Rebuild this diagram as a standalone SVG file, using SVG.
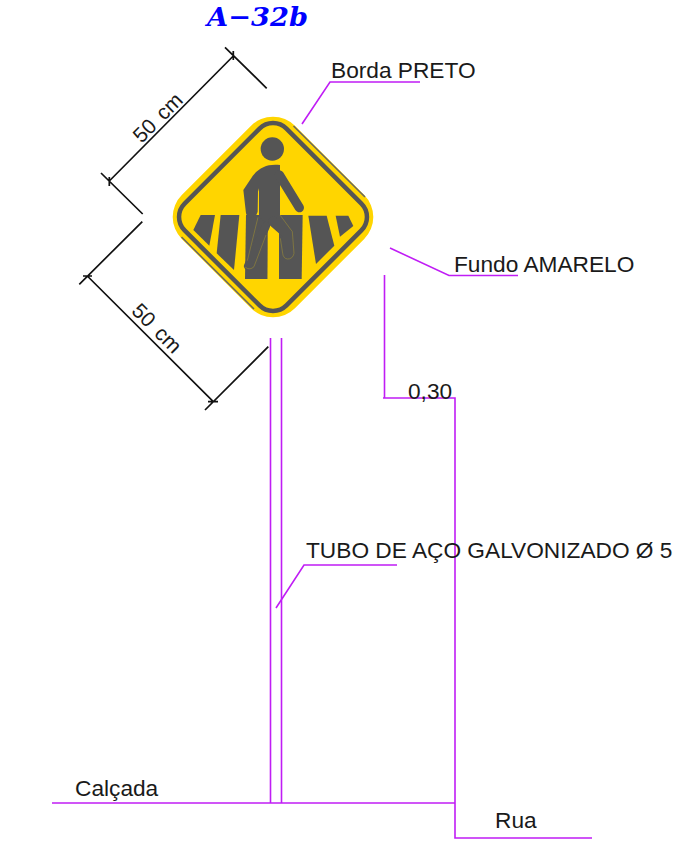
<svg xmlns="http://www.w3.org/2000/svg" width="674" height="846" viewBox="0 0 674 846">
<style>
.t{font-family:"Liberation Sans",Arial,sans-serif;font-size:22.700px;fill:#1a1a1a}
.r{font-size:21px;word-spacing:3px}
.p{fill:none;stroke:#c01df5;stroke-width:1.600}
.d{fill:none;stroke:#111;stroke-width:1.700}
.k{fill:#555}
.s{fill:none;stroke:#555;stroke-linecap:round;stroke-linejoin:round}
.y{fill:none;stroke:#a8962e;stroke-width:1.500}
</style>
<rect width="674" height="846" fill="#fff"/>
<g id="connectors">
<path class="p" d="M302 124L330 82H420"/>
<path class="p" d="M390 248L449 275.500H518"/>
<path class="p" d="M384.500 275V398M383 398H455V838H592"/>
<path class="p" d="M270.500 338V803M281.500 338V803"/>
<path class="p" d="M52 803H455"/>
<path class="p" d="M276 608L304 565H397"/>
<path class="d" d="M109.300 181L233.300 56M101 173L142.700 214M225 47.300L266.700 88.300M109.300 177V186M233.300 51V60"/>
<path class="d" d="M87.300 276L213.300 401.700M79.300 284.300L142.300 221.700M205 410L268.300 346.700M83 276H92M208 401.700H218"/>
</g>
<g id="sign">
<rect x="193" y="137" width="160" height="160" rx="31" fill="#ffd500" transform="rotate(45 273 217)"/>
<path d="M293.500 126L365 197M181.500 237L254 309" fill="none" stroke="#666" stroke-width="1.500"/>
<rect x="201" y="145" width="144" height="144" rx="19" fill="none" stroke="#555" stroke-width="4.500" transform="rotate(45 273 217)"/>
<g transform="translate(160 100) scale(.33333)">
<circle class="k" cx="337" cy="147" r="35"/>
<path class="k" d="M122 345H165L148 437L100 390Z"/>
<path class="k" d="M182 345H238L222 510L170 460Z"/>
<path class="k" d="M258 345H325L323 537H255Z"/>
<path class="k" d="M357 345H428L425 537H357Z"/>
<path class="k" d="M445 347H500L523 437L468 492Z"/>
<path class="k" d="M527 347H565L580 378L540 410Z"/>
<path fill="#ffd500" d="M323 537V378L357 415V537Z"/>
<path class="k" d="M360 195C320 190 290 205 270 240L250 270L258 340Q262 355 275 352Q290 350 293 335L294 275L297 265V350L325 375H360V230Z"/>
<path class="s" stroke-width="28" d="M358 225L418 323"/>
<path class="s" stroke-width="24" d="M318 378L264 498"/>
<path class="s" stroke-width="30" d="M340 365L382 402L386 462"/>
<path class="y" d="M294 352L262 482M318 405L282 500Q270 512 256 502M360 345L397 395L402 460Q398 478 382 477Q370 475 368 460L361 415"/>
</g>
</g>
<g id="title"><text x="207" y="26" font-family="'DejaVu Serif',serif" font-size="26" font-weight="700" font-style="italic" fill="#00f" textLength="101" lengthAdjust="spacingAndGlyphs">A−32b</text></g>
<g id="dim-top"><text class="t r" x="158.500" y="118.500" text-anchor="middle" transform="rotate(-45 158.500 118.500)" dy="6">50 cm</text></g>
<g id="dim-bottom"><text class="t r" x="156" y="329" text-anchor="middle" transform="rotate(45 156 329)" dy="6">50 cm</text></g>
<g id="label-borda"><text class="t" x="331" y="78">Borda PRETO</text></g>
<g id="label-fundo"><text class="t" x="454" y="272">Fundo AMARELO</text></g>
<g id="label-030"><text class="t" x="408" y="399">0,30</text></g>
<g id="label-tubo"><text class="t" x="306" y="558">TUBO DE AÇO GALVONIZADO Ø 5</text></g>
<g id="label-calcada"><text class="t" x="75" y="796">Calçada</text></g>
<g id="label-rua"><text class="t" x="495" y="828">Rua</text></g>
</svg>
